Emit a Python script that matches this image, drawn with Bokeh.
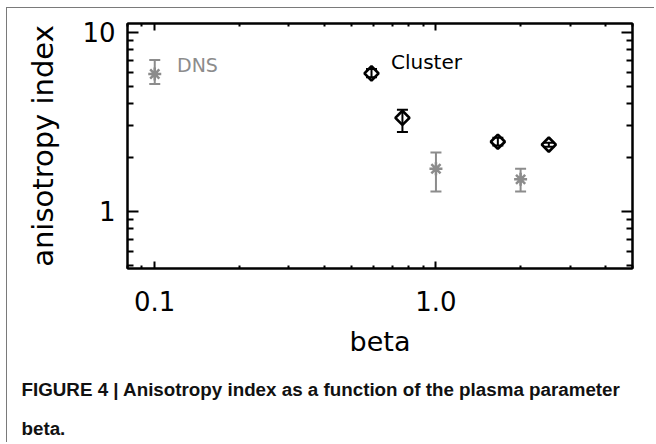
from bokeh.plotting import figure
from bokeh.models import (FixedTicker, PrintfTickFormatter, LogAxis, Label, Title,
                          Whisker, TeeHead, ColumnDataSource, Range1d)
from bokeh.embed import file_html
from bokeh.resources import INLINE

# ---- data ----
dns_beta = [0.1, 1.0, 2.0]
dns_index = [5.85, 1.73, 1.51]
dns_low = [5.15, 1.29, 1.29]
dns_high = [7.0, 2.13, 1.73]

cl_beta = [0.59, 0.76, 1.66, 2.52]
cl_index = [5.9, 3.33, 2.45, 2.36]
cl_low = [5.62, 2.78, 2.33, 2.30]
cl_high = [6.23, 3.69, 2.58, 2.42]

x_major = [0.1, 1.0]
x_minor = [0.08, 0.09, 0.2, 0.3, 0.4, 0.5, 0.6, 0.7, 0.8, 0.9, 2, 3, 4, 5]
y_major = [1, 10]
y_minor = [0.5, 0.6, 0.7, 0.8, 0.9, 2, 3, 4, 5, 6, 7, 8, 9]

caption_1 = "FIGURE 4 | Anisotropy index as a function of the plasma parameter"
caption_2 = "beta."

GRAY = "#8c8c8c"
FONT = "DejaVu Sans"
CAP_FONT = "Liberation Sans"

p = figure(width=648, height=435, x_axis_type="log", y_axis_type="log",
           x_range=Range1d(0.08, 5.0), y_range=Range1d(0.48, 11.2),
           output_backend="svg", toolbar_location=None,
           min_border_left=120, min_border_right=23,
           min_border_top=15, min_border_bottom=175)
p.margin = (7, 0, 0, 6)
p.styles = {"border-left": "1.5px solid #7a7a7a", "border-top": "1.5px solid #7a7a7a"}
p.xgrid.visible = False
p.ygrid.visible = False
p.outline_line_color = "black"
p.outline_line_width = 2
p.background_fill_color = "white"
p.border_fill_color = "white"

def style_axis(ax, horizontal):
    ax.axis_line_width = 2
    ax.axis_line_color = "black"
    ax.major_tick_line_width = 2
    ax.minor_tick_line_width = 2
    ax.major_tick_out = 0
    ax.minor_tick_out = 0
    if horizontal:
        ax.major_tick_in = 7
        ax.minor_tick_in = 3
    else:
        ax.major_tick_in = 11
        ax.minor_tick_in = 6
    ax.major_label_text_font = FONT
    ax.major_label_text_font_size = "26px"
    ax.major_label_text_color = "black"
    ax.axis_label_text_font = FONT
    ax.axis_label_text_font_size = "27px"
    ax.axis_label_text_font_style = "normal"
    ax.axis_label_text_color = "black"

xa = p.xaxis[0]
xa.ticker = FixedTicker(ticks=x_major, minor_ticks=x_minor)
xa.formatter = PrintfTickFormatter(format="%.1f")
style_axis(xa, True)
xa.major_label_standoff = 22
xa.axis_label = "beta"
xa.axis_label_standoff = 12

ya = p.yaxis[0]
ya.ticker = FixedTicker(ticks=y_major, minor_ticks=y_minor)
ya.formatter = PrintfTickFormatter(format="%d")
style_axis(ya, False)
ya.axis_label_text_font_size = "29px"
ya.major_label_standoff = 12
ya.axis_label = "anisotropy index"
ya.axis_label_standoff = 19

top = LogAxis(ticker=FixedTicker(ticks=x_major, minor_ticks=x_minor))
style_axis(top, True)
top.major_label_text_font_size = "2px"
top.major_label_text_alpha = 0
top.major_label_standoff = 0
p.add_layout(top, "above")

right = LogAxis(ticker=FixedTicker(ticks=y_major, minor_ticks=y_minor))
style_axis(right, False)
right.major_label_text_font_size = "2px"
right.major_label_text_alpha = 0
right.major_label_standoff = 0
p.add_layout(right, "right")

dns = ColumnDataSource(dict(x=dns_beta, y=dns_index, lo=dns_low, hi=dns_high))
cl = ColumnDataSource(dict(x=cl_beta, y=cl_index, lo=cl_low, hi=cl_high))

p.add_layout(Whisker(source=dns, base="x", lower="lo", upper="hi",
                     line_color=GRAY, line_width=2,
                     upper_head=TeeHead(size=11, line_color=GRAY, line_width=2),
                     lower_head=TeeHead(size=11, line_color=GRAY, line_width=2)))
p.scatter("x", "y", source=dns, marker="asterisk", size=13,
          line_color=GRAY, line_width=2.5)

p.add_layout(Whisker(source=cl, base="x", lower="lo", upper="hi",
                     line_color="black", line_width=2,
                     upper_head=TeeHead(size=11, line_color="black", line_width=2),
                     lower_head=TeeHead(size=11, line_color="black", line_width=2)))
p.scatter("x", "y", source=cl, marker="square", angle=0.785, size=10,
          fill_color=None, line_color="black", line_width=2.7)

p.add_layout(Label(x=0.12, y=5.7, text="DNS", text_font=FONT,
                   text_font_size="19px", text_color=GRAY))
p.add_layout(Label(x=0.692, y=5.84, text="Cluster", text_font=FONT,
                   text_font_size="20px", text_color="black"))

# caption below the plot
p.add_layout(Title(text=caption_1, align="left", offset=-106, standoff=34,
                   text_font=CAP_FONT, text_font_style="bold",
                   text_font_size="18.8px", text_color="#111111"), "below")
p.add_layout(Title(text=caption_2, align="left", offset=-106, standoff=-2,
                   text_font=CAP_FONT, text_font_style="bold",
                   text_font_size="18.8px", text_color="#111111"), "below")

open("out.html", "w").write(file_html(p, INLINE))
